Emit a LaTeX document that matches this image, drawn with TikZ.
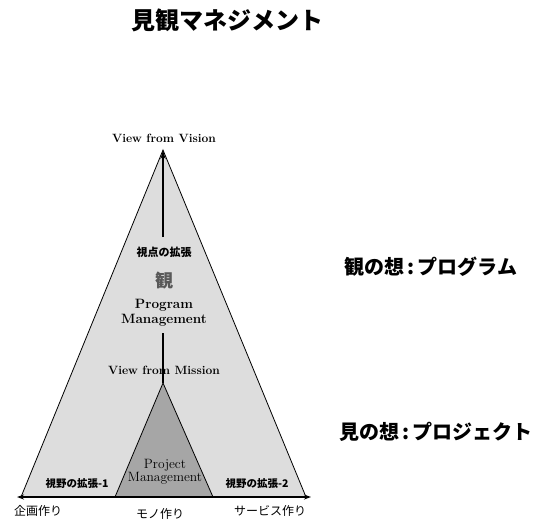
\documentclass[tikz,border=0pt]{standalone}
\usepackage{fontspec}
\newfontfamily\cjk{Noto Sans CJK JP}
\usetikzlibrary{arrows.meta}
\definecolor{paleg}{HTML}{DDDDDD}
\definecolor{darkg}{HTML}{A6A6A6}
\tikzset{
  jbig/.style={font=\cjk\bfseries\fontsize{20}{22}\selectfont, inner sep=0pt},
  jsmall/.style={font=\cjk\bfseries\fontsize{10.5}{12}\selectfont, inner sep=0pt},
  jfoot/.style={font=\cjk\fontsize{12}{14}\selectfont, inner sep=0pt},
  latin/.style={font=\bfseries\fontsize{12}{13}\selectfont\addfontfeatures{LetterSpace=2}, inner sep=0pt},
  tri/.style={draw=black, line width=0.8pt},
  axis/.style={line width=1.4pt},
}
\begin{document}
\begin{tikzpicture}[x=1pt,y=-1pt]
\useasboundingbox (0,0) rectangle (534,520);
% triangles
\coordinate (apex) at (163,150);
\coordinate (bl) at (21,497);
\coordinate (br) at (306,497);
\coordinate (iapex) at (163,383);
\coordinate (ibl) at (115,497);
\coordinate (ibr) at (213,497);
\filldraw[tri, fill=paleg] (apex) -- (bl) -- (br) -- cycle;
\filldraw[tri, fill=darkg] (iapex) -- (ibl) -- (ibr) -- cycle;
% base axis
\coordinate (L) at (17,497);
\coordinate (R) at (311,497);
\draw[axis, {Stealth[length=7pt,width=5pt]}-{Stealth[length=7pt,width=5pt]}] (L) -- (R);
% vertical
\coordinate (vlow) at (163,237);
\coordinate (vmid) at (163,333);
\draw[line width=1.4pt, -{Stealth[length=9pt,width=5pt]}] (vlow) -- (apex);
\draw[line width=1.4pt] (vmid) -- (iapex);
% title
\node[font=\cjk\bfseries\fontsize{24}{26}\selectfont, inner sep=0pt] (title) at (227,20) {見観マネジメント};
% labels in diagram
\node[latin] (vv) at (164,138) {View from Vision};
\node[font=\cjk\bfseries\fontsize{11}{12}\selectfont, inner sep=0pt] (vp) at (164,252) {視点の拡張};
\node[font=\cjk\bfseries\fontsize{18}{20}\selectfont, text=black!65, inner sep=0pt] (icon) at (164,281) {観};
\node[font=\bfseries\fontsize{13.5}{16}\selectfont\addfontfeatures{LetterSpace=2}, inner sep=0pt, align=center] (pm) at (164,313) {Program\\[-1pt]Management};
\node[latin] (vm) at (164,370) {View from Mission};
\node[font=\fontsize{13.5}{14}\selectfont\addfontfeatures{LetterSpace=6}, text=black, inner sep=0pt, align=center] (prj) at (165,472) {Project\\[-1pt]Management};
\node[jsmall] (e1) at (77,484) {視野の拡張-1};
\node[jsmall] (e2) at (257,484) {視野の拡張-2};
\node[jfoot] (f1) at (38,511) {企画作り};
\node[jfoot] (f2) at (160,514) {モノ作り};
\node[jfoot] (f3) at (270,511) {サービス作り};
% right labels
\node[jbig] (r1) at (431,267) {観の想\hspace{3pt}:\hspace{3pt}プログラム};
\node[jbig] (r2) at (436,432) {見の想\hspace{3pt}:\hspace{3pt}プロジェクト};
\end{tikzpicture}
\end{document}
